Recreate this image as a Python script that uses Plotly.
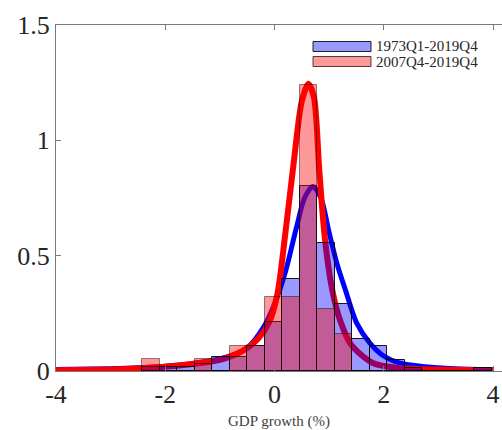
import plotly.graph_objects as go

# ---------------- data ----------------
bin_centers = [-2.26, -1.94, -1.62, -1.30, -0.98, -0.66, -0.34, -0.02, 0.30, 0.62,
               0.94, 1.26, 1.58, 1.90, 2.22, 2.54, 2.86, 3.18, 3.50, 3.82]
bin_width = 0.32
hist_full = [0.017, 0.017, 0.017, 0.030, 0.062, 0.062, 0.108, 0.214, 0.400, 0.800,
             0.557, 0.292, 0.140, 0.107, 0.047, 0.014, 0.0, 0.0, 0.0, 0.014]
hist_recent = [0.0535, 0.0, 0.0, 0.0535, 0.0, 0.107, 0.107, 0.321, 0.321, 1.24,
               0.270, 0.161, 0.0, 0.0, 0.0, 0.0, 0.0, 0.0, 0.0, 0.0]

dens_full_x = [-4.0, -3.0, -2.5, -2.0, -1.5, -1.0, -0.5, -0.2, 0.0, 0.2, 0.4, 0.55,
               0.7, 0.85, 1.0, 1.15, 1.3, 1.5, 1.75, 2.0, 2.3, 2.75, 3.3, 4.0]
dens_full_y = [0.006, 0.010, 0.014, 0.021, 0.033, 0.052, 0.10, 0.19, 0.29, 0.43, 0.62, 0.75,
               0.80, 0.75, 0.60, 0.46, 0.35, 0.21, 0.12, 0.065, 0.034, 0.019, 0.010, 0.006]
dens_recent_x = [-4.0, -3.0, -2.5, -2.0, -1.5, -1.0, -0.6, -0.3, -0.1, 0.05, 0.2, 0.35,
                 0.5, 0.62, 0.72, 0.82, 0.92, 1.05, 1.2, 1.4, 1.8, 2.3, 3.0, 4.0]
dens_recent_y = [0.003, 0.007, 0.011, 0.018, 0.030, 0.048, 0.085, 0.14, 0.21, 0.33, 0.60, 0.90,
                 1.17, 1.245, 1.19, 0.87, 0.58, 0.36, 0.22, 0.115, 0.035, 0.013, 0.006, 0.003]

legend_labels = ["1973Q1-2019Q4", "2007Q4-2019Q4"]
x_ticks = [-4, -2, 0, 2, 4]
y_ticks = [0, 0.5, 1, 1.5]
y_ticklabels = ["0", "0.5", "1", "1.5"]

BLUE_FILL = "rgba(0,0,255,0.4)"
RED_FILL = "rgba(255,0,0,0.4)"
FONT = "Liberation Serif"

# ---------------- geometry ----------------
W, H = 502, 430
ML, MR, MT, MB = 56, 0, 25, 59
x_px_per_unit = 54.625
x_max = 4 + (W - MR - ML - 8 * x_px_per_unit) / x_px_per_unit

fig = go.Figure()

# density curves (bottom layer)
fig.add_trace(go.Scatter(x=dens_full_x, y=dens_full_y, mode="lines",
                         line=dict(color="rgb(0,0,255)", width=5, shape="spline", smoothing=0.8),
                         showlegend=False, xaxis="x", yaxis="y"))
fig.add_trace(go.Scatter(x=dens_recent_x, y=dens_recent_y, mode="lines",
                         line=dict(color="rgb(255,0,0)", width=6, shape="spline", smoothing=0.8),
                         showlegend=False, xaxis="x", yaxis="y"))

# histograms (overlay layer, drawn above curves)
fig.add_trace(go.Bar(x=bin_centers, y=hist_full, width=bin_width,
                     marker=dict(color=BLUE_FILL, line=dict(color="rgba(0,0,0,0.9)", width=1)),
                     showlegend=False, xaxis="x2", yaxis="y2"))
fig.add_trace(go.Bar(x=bin_centers, y=hist_recent, width=bin_width,
                     marker=dict(color=RED_FILL, line=dict(color="rgba(0,0,0,0.45)", width=1)),
                     showlegend=False, xaxis="x2", yaxis="y2"))

axis_color = "#7a7a7a"
tickfont = dict(family=FONT, size=26, color="#262626")

fig.update_layout(
    width=W, height=H,
    margin=dict(l=ML, r=MR, t=MT, b=MB),
    paper_bgcolor="white", plot_bgcolor="white",
    barmode="overlay", bargap=0,
    xaxis=dict(range=[-4, x_max], tickvals=x_ticks, ticktext=[str(v) for v in x_ticks],
               showgrid=False, zeroline=False, showline=True, linecolor=axis_color, linewidth=1,
               mirror="ticks", ticks="inside", ticklen=5, tickcolor=axis_color,
               tickfont=tickfont,
               title=dict(text="GDP growth (%)", font=dict(family=FONT, size=15, color="#404040"),
                          standoff=8)),
    yaxis=dict(range=[0, 1.5], tickvals=y_ticks, ticktext=y_ticklabels,
               showgrid=False, zeroline=False, showline=True, linecolor=axis_color, linewidth=1,
               ticks="inside", ticklen=5, tickcolor=axis_color, tickfont=tickfont),
    xaxis2=dict(range=[-4, x_max], overlaying="x", visible=False),
    yaxis2=dict(range=[0, 1.5], overlaying="y", visible=False),
    showlegend=False,
)

# custom legend (paper coordinates)
def px_x(px):
    return (px - ML) / (W - ML - MR)

def px_y(py):
    return 1 - (py - MT) / (H - MT - MB)

legend_items = [(legend_labels[0], BLUE_FILL, "rgba(0,0,0,0.85)", 41.5, 51.5),
                (legend_labels[1], RED_FILL, "rgba(0,0,0,0.7)", 56.5, 66.5)]
for label, fill, edge, y0, y1 in legend_items:
    fig.add_shape(type="rect", xref="paper", yref="paper",
                  x0=px_x(313), x1=px_x(371), y0=px_y(y1), y1=px_y(y0),
                  fillcolor=fill, line=dict(color=edge, width=1), layer="above")
    fig.add_annotation(xref="paper", yref="paper", x=px_x(374), y=px_y((y0 + y1) / 2),
                       text=label, showarrow=False, xanchor="left", yanchor="middle",
                       font=dict(family=FONT, size=15, color="#262626"))

fig.write_html("out.html")
